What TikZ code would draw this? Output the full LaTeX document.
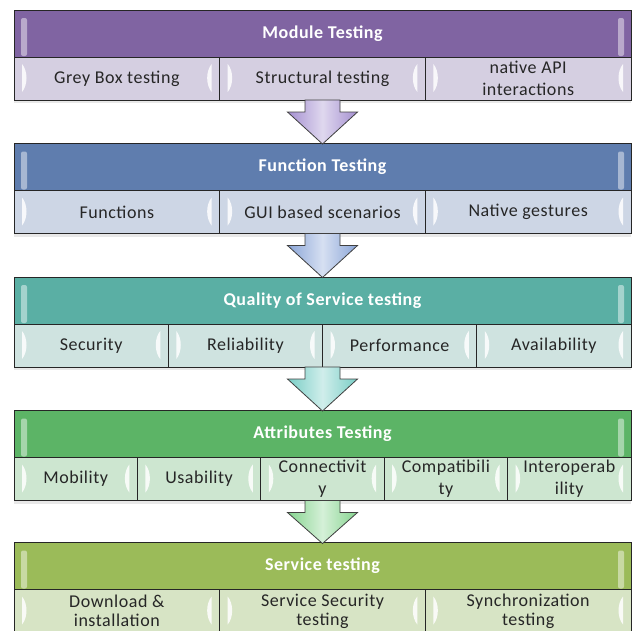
\documentclass[tikz,border=0pt]{standalone}
\usepackage{fontspec}
\setmainfont{Carlito}
\newfontfamily\cellfont[LetterSpace=3]{Carlito}
\usepackage{tikz}
\usetikzlibrary{positioning,shadows}

% Define colors
\definecolor{modhead}{HTML}{8064A2}
\definecolor{modcell}{HTML}{D5CFE1}
\definecolor{modarrow}{HTML}{A48FD0}
\definecolor{funchead}{HTML}{5F7DAE}
\definecolor{funccell}{HTML}{CDD6E5}
\definecolor{funcarrow}{HTML}{8AA5D8}
\definecolor{qoshead}{HTML}{5AAFA4}
\definecolor{qoscell}{HTML}{CFE3E0}
\definecolor{qosarrow}{HTML}{79CEC6}
\definecolor{atthead}{HTML}{5CB466}
\definecolor{attcell}{HTML}{CDE6D0}
\definecolor{attarrow}{HTML}{86D48F}
\definecolor{servhead}{HTML}{9BBB59}
\definecolor{servcell}{HTML}{D7E4C5}

\begin{document}
\begin{tikzpicture}[x=1pt, y=-1pt,
    head/.style={draw=black!85, line width=1pt, outer sep=0pt, inner sep=0pt,
      minimum width=617pt, minimum height=47pt, text=white,
      font=\fontsize{18}{22}\selectfont\cellfont\bfseries,
      path picture={
        \fill[white, opacity=.45, rounded corners=2pt]
          ([xshift=7pt, yshift=-8pt]path picture bounding box.north west) rectangle
          ([xshift=13pt, yshift=1pt]path picture bounding box.south west);
        \fill[white, opacity=.45, rounded corners=2pt]
          ([xshift=-13pt, yshift=-8pt]path picture bounding box.north east) rectangle
          ([xshift=-7pt, yshift=1pt]path picture bounding box.south east);
      }},
    cell/.style={draw=black!85, line width=1pt, outer sep=0pt, inner sep=0pt,
      minimum width=#1, minimum height=43pt, align=center, text=black!85,
      font=\fontsize{18}{22}\selectfont\cellfont,
      drop shadow={opacity=.18, shadow xshift=0pt, shadow yshift=-3pt},
      path picture={
        \fill[white, opacity=.85]
          ([xshift=8pt, yshift=-7pt]path picture bounding box.north west)
          .. controls +(6pt,-7pt) and +(6pt,7pt) ..
          ([xshift=8pt, yshift=8pt]path picture bounding box.south west) -- cycle;
        \fill[white, opacity=.85]
          ([xshift=-8pt, yshift=-7pt]path picture bounding box.north east)
          .. controls +(-6pt,-7pt) and +(-6pt,7pt) ..
          ([xshift=-8pt, yshift=8pt]path picture bounding box.south east) -- cycle;
      }},
    lastcell/.style={cell=#1, font=\fontsize{18}{19}\selectfont\cellfont},
    blockarrow/.style={draw=black!75, line width=0.8pt,
      left color=#1, right color=#1, middle color=#1!35!white}]

    \useasboundingbox (0,0) rectangle (634,630);
    \clip (0,0) rectangle (634,630);

    % Module testing
    \node[head, fill=modhead] (modhead) at (322.5,33.5) {Module Testing};
    \node[cell=205.67pt, fill=modcell, anchor=north west] (mod1) at (modhead.south west) {Grey Box testing};
    \node[cell=205.67pt, fill=modcell, right=0pt of mod1] (mod2) {Structural testing};
    \node[cell=205.67pt, fill=modcell, right=0pt of mod2] (mod3) {native API\\interactions};

    % Function testing
    \node[head, fill=funchead] (funchead) at (322.5,167) {Function Testing};
    \node[cell=205.67pt, fill=funccell, anchor=north west] (func1) at (funchead.south west) {Functions};
    \node[cell=205.67pt, fill=funccell, right=0pt of func1] (func2) {GUI based scenarios};
    \node[cell=205.67pt, fill=funccell, right=0pt of func2] (func3) {Native gestures};

    % Quality of service testing
    \node[head, fill=qoshead] (qoshead) at (322.5,300.5) {Quality of Service testing};
    \node[cell=154.25pt, fill=qoscell, anchor=north west] (qos1) at (qoshead.south west) {Security};
    \node[cell=154.25pt, fill=qoscell, right=0pt of qos1] (qos2) {Reliability};
    \node[cell=154.25pt, fill=qoscell, right=0pt of qos2] (qos3) {Performance};
    \node[cell=154.25pt, fill=qoscell, right=0pt of qos3] (qos4) {Availability};

    % Attributes testing
    \node[head, fill=atthead] (atthead) at (322.5,434) {Attributes Testing};
    \node[cell=123.4pt, fill=attcell, anchor=north west] (att1) at (atthead.south west) {Mobility};
    \node[cell=123.4pt, fill=attcell, right=0pt of att1] (att2) {Usability};
    \node[cell=123.4pt, fill=attcell, right=0pt of att2] (att3) {Connectivit\\y};
    \node[cell=123.4pt, fill=attcell, right=0pt of att3] (att4) {Compatibili\\ty};
    \node[cell=123.4pt, fill=attcell, right=0pt of att4] (att5) {Interoperab\\ility};

    % Service testing (runs off the bottom)
    \node[head, fill=servhead] (servhead) at (322.5,566) {Service testing};
    \node[lastcell=205.67pt, fill=servcell, anchor=north west] (serv1) at (servhead.south west) {Download \&\\installation};
    \node[lastcell=205.67pt, fill=servcell, right=0pt of serv1] (serv2) {Service Security\\testing};
    \node[lastcell=205.67pt, fill=servcell, right=0pt of serv2] (serv3) {Synchronization\\testing};

    % Draw the block arrows between the stages
    \draw[blockarrow=modarrow] (modhead |- mod2.south) ++(-17.5,0) -- ++(0,12) -- ++(-17.5,0)
        -- ++(35,32) -- ++(35,-32) -- ++(-17.5,0) -- ++(0,-12) -- cycle;
    \draw[blockarrow=funcarrow] (funchead |- func2.south) ++(-17.5,0) -- ++(0,12) -- ++(-17.5,0)
        -- ++(35,32) -- ++(35,-32) -- ++(-17.5,0) -- ++(0,-12) -- cycle;
    \draw[blockarrow=qosarrow] (qoshead |- qos2.south) ++(-17.5,0) -- ++(0,12) -- ++(-17.5,0)
        -- ++(35,32) -- ++(35,-32) -- ++(-17.5,0) -- ++(0,-12) -- cycle;
    \draw[blockarrow=attarrow] (atthead |- att3.south) ++(-17.5,0) -- ++(0,12) -- ++(-17.5,0)
        -- ++(35,31) -- ++(35,-31) -- ++(-17.5,0) -- ++(0,-12) -- cycle;
\end{tikzpicture}
\end{document}
